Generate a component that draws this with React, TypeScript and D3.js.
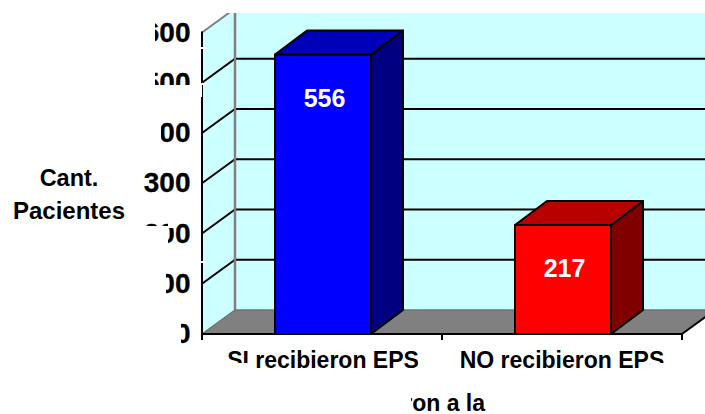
import React from "react";
import * as d3 from "d3";

const categories = ["SI recibieron EPS", "NO recibieron EPS"];
const values = [556, 217];
const ticks = [0, 100, 200, 300, 400, 500, 600];
const frontColors = ["#0000ff", "#ff0000"];
const topColors = ["#0000b8", "#b80000"];
const sideColors = ["#000080", "#800000"];

const W = 705, H = 414;
const DX = 33, DY = -24;
const font = "'Liberation Sans', Arial, sans-serif";

const yScale = d3.scaleLinear().domain([0, 600]).range([334, 32.5]);
const xBand = d3.scaleBand<string>().domain(categories).range([203, 683]).paddingInner(0.6).paddingOuter(0.3);
const pts = (p: number[][]) => p.map((q) => q.join(",")).join(" ");

export default function App() {
  const y0 = yScale(0);
  const L = 202, R = 682;
  return (
    <svg width={W} height={H} style={{ position: "fixed", left: 0, top: 0, background: "#fff" }} fontFamily={font}>
      <defs>
        <clipPath id="plot"><rect x={0} y={13} width={W} height={H - 13} /></clipPath>
      </defs>
      <g clipPath="url(#plot)">
        <polygon points={pts([[L, y0], [L, yScale(600)], [L + DX, yScale(600) + DY], [L + DX, y0 + DY]])} fill="#ccffff" />
        <rect x={L + DX} y={0} width={W} height={y0 + DY} fill="#ccffff" />
        <polygon points={pts([[L, y0], [R, y0], [R + DX, y0 + DY], [L + DX, y0 + DY]])} fill="#808080" />
        {ticks.slice(1).map((t) => (
          <g key={t} stroke="#000" strokeWidth={2} fill="none">
            <polyline points={pts([[L, yScale(t)], [L + DX, yScale(t) + DY], [W, yScale(t) + DY]])} stroke={t === 600 ? "#808080" : "#000"} />
          </g>
        ))}
        <line x1={L + DX} x2={L + DX} y1={0} y2={y0 + DY} stroke="#808080" strokeWidth={2.5} />
        <line x1={L} y1={y0} x2={L + DX} y2={y0 + DY} stroke="#707070" strokeWidth={1.5} />
        <line x1={L + DX} y1={y0 + DY} x2={W} y2={y0 + DY} stroke="#707070" strokeWidth={1.5} />
        <line x1={R} y1={y0} x2={R + DX} y2={y0 + DY} stroke="#000" strokeWidth={2} />
        {categories.map((c, i) => {
          const x = xBand(c)!, w = xBand.bandwidth(), y = yScale(values[i]);
          return (
            <g key={c} stroke="#000" strokeWidth={2} strokeLinejoin="round">
              <polygon points={pts([[x + w, y0], [x + w + DX - 1, y0 + DY], [x + w + DX - 1, y + DY], [x + w, y]])} fill={sideColors[i]} />
              <polygon points={pts([[x, y], [x + DX - 1, y + DY], [x + w + DX - 1, y + DY], [x + w, y]])} fill={topColors[i]} />
              <rect x={x} y={y} width={w} height={y0 - y} fill={frontColors[i]} />
              <text x={x + w / 2 + 1.5} y={y + 52} textAnchor="middle" fill="#fff" stroke="none" fontWeight={700} fontSize={25}>{values[i]}</text>
            </g>
          );
        })}
      </g>
      <line x1={L} x2={L} y1={yScale(600)} y2={y0 + 6} stroke="#000" strokeWidth={2} />
      <line x1={L} x2={R} y1={y0} y2={y0} stroke="#000" strokeWidth={2} />
      {ticks.map((t) => (
        <g key={t}>
          <line x1={L - 1} x2={L + 1} y1={yScale(t)} y2={yScale(t)} stroke="#000" strokeWidth={2} />
          <text x={190.5} y={yScale(t) + 9} textAnchor="end" fontSize={28} fontWeight={700} fill="#000" stroke="#000" strokeWidth={0.3}>{t}</text>
        </g>
      ))}
      {[L, (L + R) / 2, R].map((x) => (
        <line key={x} x1={x} x2={x} y1={y0} y2={y0 + 6} stroke="#000" strokeWidth={2} />
      ))}
      {categories.map((c, i) => (
        <text key={c} x={xBand(c)! + xBand.bandwidth() / 2 + (i === 0 ? 0 : -1)} y={368} textAnchor="middle" fontSize={23} fontWeight={700} fill="#000">{c}</text>
      ))}
      <text x={485} y={411} textAnchor="end" fontSize={23} fontWeight={700} fill="#000">ron a la</text>
      <text x={69} y={186} textAnchor="middle" fontSize={23.5} fontWeight={700} fill="#000">Cant.</text>
      <text x={69} y={219} textAnchor="middle" fontSize={24} fontWeight={700} fill="#000">Pacientes</text>

      {/* white patches that cut the labels, as in the reference */}
      <g fill="#fff">
        <rect x={130} y={15} width={25} height={30} />
        <rect x={130} y={68} width={25} height={30} />
        <rect x={148} y={85} width={54} height={12} />
        <rect x={130} y={118} width={31} height={30} />
        <rect x={130} y={226} width={38} height={20} />
        <rect x={168} y={218} width={6} height={10} />
        <rect x={130} y={268} width={36} height={30} />
        <rect x={140} y={320} width={41} height={30} />
        <rect x={200} y={47} width={7} height={2} />
        <rect x={200} y={83} width={7} height={2} />
        <rect x={200} y={261} width={7} height={2} />
        <rect x={222} y={363} width={29} height={9} />
        <rect x={650} y={363} width={22} height={9} />
        <rect x={398} y={392} width={13} height={22} />
      </g>
    </svg>
  );
}
